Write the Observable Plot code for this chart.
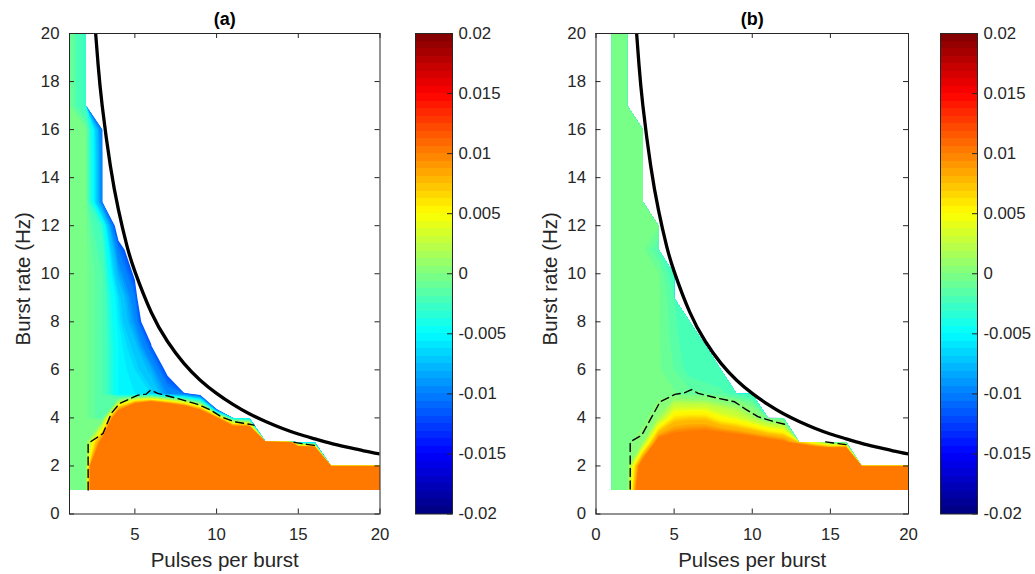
<!DOCTYPE html>
<html><head><meta charset="utf-8">
<script src="https://cdn.jsdelivr.net/npm/d3@7"></script>
<script src="https://cdn.jsdelivr.net/npm/@observablehq/plot@0.6"></script>
<style>
body{margin:0;background:#fff;}
#root{position:relative;width:1035px;height:574px;overflow:hidden;background:#fff;}
</style></head><body><div id="root"></div>
<script>
// ---------- DATA ----------
const pulsesPerBurst = [1,2,3,4,5,6,7,8,9,10,11,12,13,14,15,16,17,18,19,20];
const burstRates     = [1,2,3,4,5,6,7,8,9,10,11,12,13,14,15,16,17,18,19,20];
const G = -0.0004; // value of the flat green area

// Panel (a): one row per burst rate (1..20 Hz); entry i is pulses = i+1; missing = no data
const valuesA = [
  [G,G,0.04,0.04,0.04,0.04,0.04,0.04,0.04,0.04,0.04,0.04,0.04,0.04,0.04,0.04,0.04,0.04,0.04,0.04],
  [G,G,0.04,0.04,0.04,0.04,0.04,0.04,0.04,0.04,0.04,0.04,0.04,0.04,0.08,0.08,0.04,0.04,0.04,0.04],
  [G,G,0.012,0.04,0.04,0.04,0.04,0.04,0.04,0.04,0.04,0.04,0.04,0.03,-0.007,-0.008],
  [G,G,-0.0015,0.017,0.0345,0.044,0.04,0.031,0.0216,0.011,-0.005,-0.006],
  [G,G,-0.0015,-0.005,-0.0055,-0.006,-0.009,-0.010,-0.013,-0.05],
  [G,G,-0.0015,-0.005,-0.006,-0.008,-0.0123,-0.04],
  [G,G,-0.0015,-0.005,-0.007,-0.0112,-0.03],
  [G,G,-0.0015,-0.0055,-0.009,-0.0154],
  [G,G,-0.0015,-0.006,-0.010,-0.02],
  [G,G,-0.0015,-0.008,-0.012],
  [G,G,-0.002,-0.010,-0.014],
  [G,G,-0.003,-0.014],
  [G,G,-0.010],
  [G,G,-0.010],
  [G,G,-0.010],
  [G,G,-0.0105],
  [G,-0.003],
  [G,-0.003],
  [G,-0.003],
  [G,-0.003]
];

// Panel (b)
const valuesB = [
  [G,G,0.019,0.04,0.04,0.04,0.04,0.04,0.04,0.04,0.04,0.04,0.04,0.04,0.04,0.04,0.04,0.04,0.04,0.04],
  [G,G,0.0138,0.04,0.04,0.04,0.04,0.04,0.04,0.04,0.04,0.04,0.04,0.04,0.045,0.05,0.04,0.04,0.04,0.04],
  [G,G,0.001,0.012,0.0122,0.01265,0.013,0.0135,0.013,0.0126,0.0117,0.0106,0.0072,0.0031,-0.0015,-0.002],
  [G,G,G,0.0013,0.0065,0.007,0.007,0.005,0.004,0.002,-0.0005,-0.0015],
  [G,G,G,G,G,-0.0008,-0.0009,-0.0012,-0.0018,-0.0023],
  [G,G,G,G,-0.001,-0.0018,-0.0022,-0.0025],
  [G,G,G,G,-0.0012,-0.002,-0.0025],
  [G,G,G,G,-0.0013,-0.0025],
  [G,G,G,G,-0.0015],
  [G,G,G,G,-0.0022],
  [G,G,G,-0.0015],
  [G,G,G,G],
  [G,G,G],
  [G,G,G],
  [G,G,G],
  [G,G,G],
  [G,G],
  [G,G],
  [G,G],
  [G,G]
];

// Solid black boundary curve (pulses, rate)
const curvePulses = [2.6,2.75,3,3.5,4,4.5,5,6,7,8,9,10,11,12,13,14,15,16,17,18,19,20];
const curveRate   = [20,18.7,17.0,14.5,12.65,11.2,10.1,8.4,7.18,6.27,5.57,5.02,4.56,4.17,3.85,3.57,3.33,3.13,2.94,2.78,2.63,2.5];

// Dashed contour lines (pulses, rate)
const dashA1 = [[2.14,1.0],[2.14,2.94],[3.05,3.35],[3.56,4.19],[4.07,4.6],[5.19,4.95],[5.7,4.99],[5.96,5.16],[6.4,5.02],[7.6,4.81],[8.85,4.56],[9.66,4.32],[10.27,4.05],[11.08,3.84],[12.3,3.7]];
const dashA2 = [[14.74,2.98],[15.5,2.9],[16.16,2.84]];
const dashB1 = [[2.19,1.04],[2.19,3.0],[2.93,3.28],[4.1,4.67],[5.05,4.98],[5.69,5.05],[6.11,5.18],[6.54,5.02],[7.6,4.85],[8.87,4.67],[9.51,4.39],[10.36,4.05],[11.42,3.84],[12.27,3.7]];
const dashB2 = [[14.7,3.0],[15.5,2.93],[16.2,2.87]];

const xTicksA = [5,10,15,20];
const xTicksB = [0,5,10,15,20];
const yTicks  = [0,2,4,6,8,10,12,14,16,18,20];
const cbTicks = [-0.02,-0.015,-0.01,-0.005,0,0.005,0.01,0.015,0.02];
const cbLabels = ["-0.02","-0.015","-0.01","-0.005","0","0.005","0.01","0.015","0.02"];

// ---------- STYLE / HELPERS ----------
const FONT = '"Liberation Sans", Arial, Helvetica, sans-serif';
const INK = "#262626";
const TICK_FS = 16.8, LABEL_FS = 20.5, TITLE_FS = 18;
const NO_DATA = -10; // far below the lowest contour level => left unfilled (white)
const levels = d3.range(-23, 22).map(i => i * 0.0005); // contourf levels

function jet64(t) {
  const k = Math.max(0, Math.min(63, Math.floor(t * 64 + 1e-9)));
  const u = (k + 0.5) / 64;
  const c = x => Math.max(0, Math.min(1, x));
  const r = c(1.5 - Math.abs(4*u - 3)), g = c(1.5 - Math.abs(4*u - 2)), b = c(1.5 - Math.abs(4*u - 1));
  return `rgb(${Math.round(r*255)},${Math.round(g*255)},${Math.round(b*255)})`;
}
const colorScale = {type: "linear", domain: [-0.02, 0.02], interpolate: (t) => jet64(t), clamp: true};

function buildGrid(rows) {
  const W = pulsesPerBurst.length + 2, H = burstRates.length + 2;
  const g = new Array(W * H).fill(NO_DATA);
  rows.forEach((row, j) => row.forEach((v, i) => { g[(j + 1) * W + (i + 1)] = v; }));
  return {g, W, H};
}

const curve = curvePulses.map((n, i) => ({n, r: curveRate[i]}));

function panel({title, rows, xDomain, xTicks, dashes, mL, mR}) {
  const W = 400, H = 574, mT = 33, mB = 60.5;
  const fw = W - mL - mR, fh = H - mT - mB;
  const {g, W: gw, H: gh} = buildGrid(rows);
  return Plot.plot({
    width: W, height: H, marginLeft: mL, marginRight: mR, marginTop: mT, marginBottom: mB,
    style: {fontFamily: FONT, fontSize: TICK_FS + "px", color: INK, background: "transparent", overflow: "visible"},
    x: {domain: xDomain, axis: null, label: null},
    y: {domain: [0, 20], axis: null, label: null},
    color: colorScale,
    marks: [
      Plot.contour(g, {width: gw, height: gh, x1: -0.5, x2: gw - 0.5, y1: -0.5, y2: gh - 0.5,
        fill: Plot.identity, stroke: "none", thresholds: levels, clip: true}),
      Plot.line(curve, {x: "n", y: "r", stroke: "black", strokeWidth: 3.3, curve: "natural", clip: true}),
      ...dashes.map(seg => Plot.line(seg, {x: d => d[0], y: d => d[1], stroke: "black", strokeWidth: 1.4, strokeDasharray: "8,4.5"})),
      Plot.frame({stroke: INK, strokeWidth: 1}),
      Plot.tickX(xTicks, {x: d => d, insetTop: fh - 5, stroke: INK}),
      Plot.tickX(xTicks, {x: d => d, insetBottom: fh - 5, stroke: INK}),
      Plot.tickY(yTicks, {y: d => d, insetRight: fw - 5, stroke: INK}),
      Plot.tickY(yTicks, {y: d => d, insetLeft: fw - 5, stroke: INK}),
      Plot.axisX(xTicks, {label: null, tickSize: 0, tickPadding: 14, fontSize: TICK_FS, fill: INK, tickFormat: d => String(d)}),
      Plot.axisY(yTicks, {label: null, tickSize: 0, tickPadding: 10, fontSize: TICK_FS, fill: INK, tickFormat: d => String(d)}),
      Plot.text([title], {frameAnchor: "top", dy: -14, lineAnchor: "middle", textAnchor: "middle", fontWeight: "bold", fontSize: TITLE_FS, fill: "#000"}),
      Plot.text(["Pulses per burst"], {frameAnchor: "bottom", dy: 46.5, lineAnchor: "middle", textAnchor: "middle", fontSize: LABEL_FS, fill: INK}),
      Plot.text(["Burst rate (Hz)"], {frameAnchor: "left", dx: -46, dy: 5, rotate: -90, lineAnchor: "middle", textAnchor: "middle", fontSize: LABEL_FS, fill: INK})
    ]
  });
}

function colorbar() {
  const W = 120, H = 574, mL = 15, barW = 37, mT = 33, mB = 60.5;
  const step = 0.04 / 64;
  const bands = d3.range(64).map(k => ({y1: -0.02 + k * step, y2: -0.02 + (k + 1) * step, v: -0.02 + (k + 0.5) * step}));
  return Plot.plot({
    width: W, height: H, marginLeft: mL, marginRight: W - mL - barW, marginTop: mT, marginBottom: mB,
    style: {fontFamily: FONT, fontSize: TICK_FS + "px", color: INK, background: "transparent", overflow: "visible"},
    x: {domain: [0, 1], axis: null, label: null},
    y: {domain: [-0.02, 0.02], axis: null, label: null},
    color: colorScale,
    marks: [
      Plot.rect(bands, {x1: 0, x2: 1, y1: "y1", y2: "y2", fill: "v", shapeRendering: "crispEdges"}),
      Plot.frame({stroke: INK, strokeWidth: 1}),
      Plot.tickY(cbTicks, {y: d => d, insetLeft: barW - 5, stroke: INK}),
      Plot.axisY(cbTicks, {anchor: "right", label: null, tickSize: 0, tickPadding: 6, fontSize: TICK_FS, fill: INK,
        tickFormat: d => cbLabels[cbTicks.indexOf(d)]})
    ]
  });
}

const root = document.getElementById("root");
function place(node, left) { node.style.position = "absolute"; node.style.left = left + "px"; node.style.top = "0px"; root.appendChild(node); }

place(panel({title: "(a)", rows: valuesA, xDomain: [1, 20], xTicks: xTicksA, dashes: [dashA1, dashA2], mL: 69, mR: 20.5}), 0);
place(colorbar(), 400);
place(panel({title: "(b)", rows: valuesB, xDomain: [0, 20], xTicks: xTicksB, dashes: [dashB1, dashB2], mL: 70.5, mR: 17}), 525);
place(colorbar(), 925);
</script></body></html>
